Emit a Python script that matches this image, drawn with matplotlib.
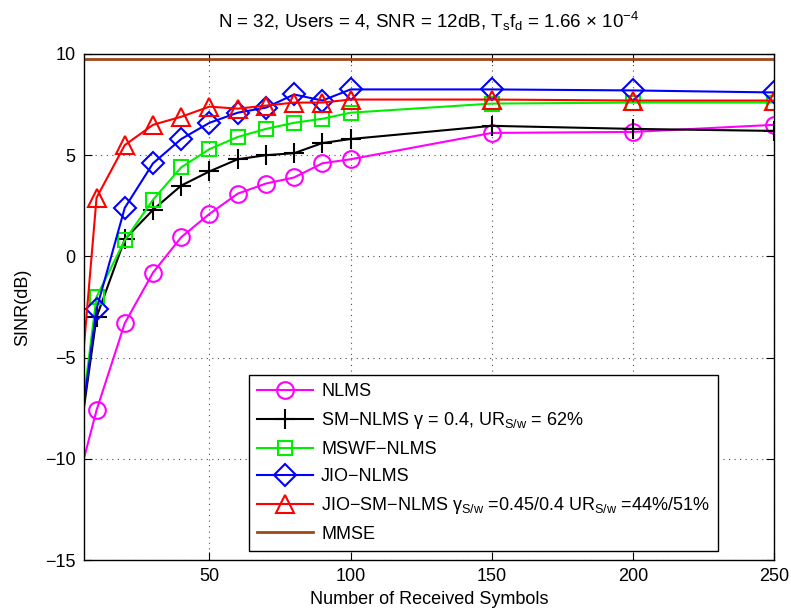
import numpy as np
import matplotlib
matplotlib.use('Agg')
import matplotlib.pyplot as plt

plt.rcParams['font.family'] = ['Liberation Sans', 'DejaVu Sans']
plt.rcParams['mathtext.fontset'] = 'custom'
plt.rcParams['mathtext.rm'] = 'Liberation Sans'
plt.rcParams['mathtext.it'] = 'Liberation Sans'

# received symbols (first point sits left of the axis and gets clipped)
symbols = [1, 10, 20, 30, 40, 50, 60, 70, 80, 90, 100, 150, 200, 250]

nlms = [-12.4, -7.6, -3.3, -0.8, 0.95, 2.1, 3.1, 3.6, 3.9, 4.6, 4.8, 6.1, 6.15, 6.5]
sm_nlms = [-12.0, -3.0, 0.85, 2.3, 3.5, 4.2, 4.8, 5.0, 5.1, 5.6, 5.8, 6.45, 6.3, 6.2]
mswf_nlms = [-12.0, -2.0, 0.8, 2.8, 4.4, 5.3, 5.9, 6.3, 6.6, 6.8, 7.1, 7.55, 7.6, 7.6]
jio_nlms = [-12.0, -2.6, 2.4, 4.6, 5.8, 6.6, 7.1, 7.35, 8.0, 7.7, 8.25, 8.25, 8.2, 8.1]
jio_sm_nlms = [-11.9, 2.9, 5.5, 6.5, 6.9, 7.4, 7.3, 7.45, 7.6, 7.6, 7.75, 7.75, 7.7, 7.7]
mmse = [9.75] * len(symbols)

fig = plt.figure(figsize=(7.91, 6.15), dpi=100)
ax = fig.add_axes([0.106, 0.0894, 0.8725, 0.8228])

ax.plot(symbols, nlms, color='magenta', lw=1.5, marker='o', ms=12, mfc='none', mew=1.5,
        label='NLMS')
ax.plot(symbols, sm_nlms, color='black', lw=1.5, marker='+', ms=14, mew=1.5,
        label='SM\u2212NLMS \u03b3 = 0.4, UR$\\mathregular{_{S/w}}$ = 62%')
ax.plot(symbols, mswf_nlms, color='#00ee00', lw=1.5, marker='s', ms=10, mfc='none', mew=1.5,
        label='MSWF\u2212NLMS')
ax.plot(symbols, jio_nlms, color='blue', lw=1.5, marker='D', ms=11, mfc='none', mew=1.5,
        label='JIO\u2212NLMS')
ax.plot(symbols, jio_sm_nlms, color='red', lw=1.5, marker='^', ms=13, mfc='none', mew=1.5,
        label='JIO\u2212SM\u2212NLMS \u03b3$\\mathregular{_{S/w}}$ =0.45/0.4 UR$\\mathregular{_{S/w}}$ =44%/51%')
ax.plot(symbols, mmse, color='#a0461e', lw=2, label='MMSE')

ax.set_xlim(5.5, 250)
ax.set_ylim(-15, 10)
ax.set_xticks([50, 100, 150, 200, 250])
ax.set_yticks([-15, -10, -5, 0, 5, 10])
ax.tick_params(direction='in', top=True, right=True, length=6, labelsize=13, pad=6)
ax.grid(True, linestyle=(0, (1, 4)), color='0.3', lw=0.8)
for s in ax.spines.values():
    s.set_linewidth(1.0)

ax.set_xlabel('Number of Received Symbols', fontsize=13, labelpad=4)
ax.set_ylabel('SINR(dB)', fontsize=13, labelpad=10)
ax.set_title('N = 32, Users = 4, SNR = 12dB, T$\\mathregular{_s}$f$\\mathregular{_d}$ = 1.66 \u00d7 10$\\mathregular{^{-4}}$',
             fontsize=13.5, pad=19)

leg = ax.legend(loc='lower right', bbox_to_anchor=(0.919, 0.018), fontsize=13,
                fancybox=False, edgecolor='black', framealpha=1, handlelength=3.1,
                handletextpad=0.45, borderaxespad=0, labelspacing=0.55, borderpad=0.45)
leg.get_frame().set_linewidth(1.0)

plt.savefig('out.png', dpi=100)
